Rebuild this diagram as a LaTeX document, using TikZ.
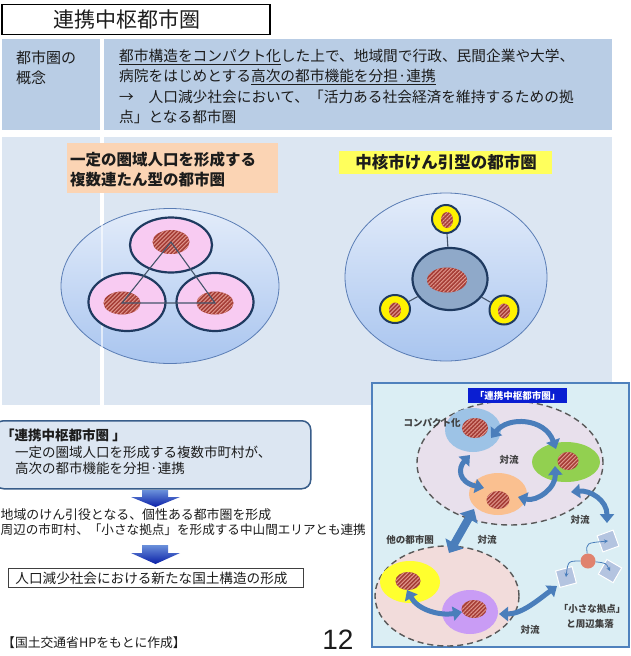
\documentclass[tikz,border=0pt]{standalone}
\usepackage{fontspec}
\setmainfont{Noto Sans CJK JP}
\newfontfamily\arialf{Liberation Sans}
\usetikzlibrary{shapes.geometric, patterns.meta, arrows.meta}
\newcommand\setfs[1]{\fontsize{#1}{#1}\selectfont}
\definecolor{ink}{HTML}{1C1C1C}
\definecolor{cellA}{HTML}{B9CDE5}
\definecolor{cellB}{HTML}{DCE6F2}
\definecolor{peach}{HTML}{FBD4B4}
\definecolor{ylw}{HTML}{FFFF5C}
\definecolor{ellTop}{HTML}{E3ECFA}
\definecolor{ellBot}{HTML}{A9C5EF}
\definecolor{ellBorder}{HTML}{5A7DB5}
\definecolor{navy}{HTML}{1F3A60}
\definecolor{pinkc}{HTML}{F8CBF2}
\definecolor{hatchBase}{HTML}{A63E37}
\definecolor{hatchLine}{HTML}{E39A90}
\definecolor{slate}{HTML}{44546A}
\definecolor{ctrBlue}{HTML}{8FA9C9}
\definecolor{rboxBorder}{HTML}{385D8A}
\definecolor{arrTop}{HTML}{6A90DA}
\definecolor{arrBot}{HTML}{0A1FA8}
\definecolor{frameFill}{HTML}{DBEEF4}
\definecolor{frameLine}{HTML}{4F81BD}
\definecolor{upFill}{HTML}{E8E0EC}
\definecolor{lowFill}{HTML}{F2DCDB}
\definecolor{dashGrey}{HTML}{595959}
\definecolor{cBlue}{HTML}{9DC3E6}
\definecolor{cGreen}{HTML}{92D050}
\definecolor{cOrange}{HTML}{FAC090}
\definecolor{cYellow}{HTML}{FFFF2E}
\definecolor{cPurple}{HTML}{C99CF5}
\definecolor{flowBlue}{HTML}{4A7EBB}
\definecolor{labelBlue}{HTML}{0A1ED2}
\definecolor{sqFill}{HTML}{B4C4E0}
\definecolor{hubRed}{HTML}{E0826E}
\definecolor{smallInk}{HTML}{404040}
\begin{document}
\begin{tikzpicture}[x=1pt,y=-1pt,
  cell/.style={anchor=north west, inner sep=0, draw=none},
  txt/.style={inner sep=0, anchor=west, text=ink},
  ctxt/.style={inner sep=0, text=ink},
  small/.style={inner sep=0, text=smallInk, font=\setfs{9.5}\bfseries},
  bigell/.style={ellipse, inner sep=0, draw=ellBorder, line width=0.8, top color=ellTop, bottom color=ellBot},
  pinkring/.style={ellipse, inner sep=0, draw=navy, line width=2.2, fill=pinkc},
  yring/.style={ellipse, inner sep=0, draw=navy, line width=2, fill=yellow},
  hatch/.style={ellipse, inner sep=0, fill=hatchBase, postaction={pattern={Lines[angle=45,distance=2.8pt,line width=0.9pt]}, pattern color=hatchLine}},
  blob/.style={ellipse, inner sep=0, draw=none},
  region/.style={ellipse, inner sep=0, draw=dashGrey, line width=1.4, dash pattern=on 6pt off 4pt},
  flow/.style={draw=flowBlue, line width=5, {Triangle[width=14pt,length=9pt]}-{Triangle[width=14pt,length=9pt]}},
  thinarr/.style={draw=flowBlue, line width=0.8, -{Stealth[width=4pt,length=4pt]}},
  sq/.style={rectangle, fill=sqFill, draw=white, line width=1, minimum size=17, inner sep=0},
  link/.style={draw=slate, line width=1.1}
]
\useasboundingbox (0,0) rectangle (630,656);
\fill[white] (0,0) rectangle (630,656);

% title
\node[draw=black, line width=1.5, fill=white, minimum width=268, minimum height=30, inner sep=0] (title) at (136,19.5) {};
\node[ctxt, font=\setfs{21}] (titletext) at (127,19.5) {連携中枢都市圏};

% table
\node[cell, fill=cellA, minimum width=98, minimum height=91] (c11) at (2,39) {};
\node[cell, fill=cellA, minimum width=508, minimum height=91] (c12) at (104,39) {};
\node[cell, fill=cellB, minimum width=98, minimum height=268] (c21) at (2,137) {};
\node[cell, fill=cellB, minimum width=508, minimum height=268] (c22) at (104,137) {};

\node[txt, font=\setfs{15}] (k1) at (16,58) {都市圏の};
\node[txt, font=\setfs{15}] (k2) at (16,78) {概念};
\node[txt, font=\setfs{14.7}] (d1) at (119,57) {\underline{都市構造をコンパクト化}した上で、地域間で行政、民間企業や大学、};
\node[txt, font=\setfs{14.7}] (d2) at (119,77) {病院をはじめとする\underline{高次の都市機能を分担·連携}};
\node[txt, font=\setfs{14.7}] (d3) at (119,97) {→　人口減少社会において、「活力ある社会経済を維持するための拠};
\node[txt, font=\setfs{14.7}] (d4) at (119,117) {点」となる都市圏};

% row 2 figure
\node[bigell, minimum width=218, minimum height=155] (leftell) at (170,286) {};
\draw[white, line width=2, opacity=0.6] (102,193) -- (102,405);
\node[cell, fill=peach, minimum width=211, minimum height=50] (peachbox) at (67,143) {};
\node[txt, font=\setfs{15.5}\bfseries] (p1) at (70,160) {一定の圏域人口を形成する};
\node[txt, font=\setfs{15.5}\bfseries] (p2) at (70,180) {複数連たん型の都市圏};

\node[pinkring, minimum width=82, minimum height=55] (pt) at (171,245) {};
\node[pinkring, minimum width=77, minimum height=58] (pl) at (127,302) {};
\node[pinkring, minimum width=77, minimum height=58] (pr) at (215,302) {};
\node[hatch, minimum width=37, minimum height=24] (ht) at (171,242) {};
\node[hatch, minimum width=37, minimum height=23] (hl) at (122,303) {};
\node[hatch, minimum width=37, minimum height=23] (hr) at (215,303) {};
\draw[link] (ht.center) -- (hl.center) -- (hr.center) -- cycle;

\node[cell, fill=ylw, minimum width=213, minimum height=23] (ybox) at (339,151) {};
\node[ctxt, font=\setfs{16.5}\bfseries] (ytext) at (446,162.5) {中核市けん引型の都市圏};

\node[bigell, minimum width=202, minimum height=168] (rightell) at (446,277) {};
\node[ellipse, inner sep=0, draw=navy, line width=2.2, fill=ctrBlue, minimum width=75, minimum height=62] (ctr) at (450,279) {};
\node[hatch, minimum width=40, minimum height=25] (hc) at (447,280) {};
\node[yring, minimum width=28, minimum height=28] (s1) at (446,219) {};
\node[yring, minimum width=30, minimum height=28] (s2) at (395,309) {};
\node[yring, minimum width=29, minimum height=29] (s3) at (504,310) {};
\node[hatch, minimum width=12, minimum height=16] (hs1) at (447,220) {};
\node[hatch, minimum width=12, minimum height=15] (hs2) at (395,310) {};
\node[hatch, minimum width=12, minimum height=15] (hs3) at (504,311) {};
\draw[link] (ctr) -- (s1);
\draw[link] (ctr) -- (s2);
\draw[link] (ctr) -- (s3);

% lower left flow
\node[cell, draw=rboxBorder, line width=1.5, fill=cellB, rounded corners=9, minimum width=316, minimum height=68] (concept) at (-6,420) {};
\node[txt, font=\setfs{13.5}\bfseries] (ct1) at (1,435) {「連携中枢都市圏 」};
\node[txt, font=\setfs{13.5}] (ct2) at (15,452) {一定の圏域人口を形成する複数市町村が、};
\node[txt, font=\setfs{13.5}] (ct3) at (15,468) {高次の都市機能を分担·連携};

\shade[top color=arrTop, bottom color=arrBot] (142,490) -- (168,490) -- (168,497) -- (180,497) -- (155.5,507) -- (131,497) -- (142,497) -- cycle;
\node[txt, font=\setfs{12.9}] (m1) at (0.5,515) {地域のけん引役となる、個性ある都市圏を形成};
\node[txt, font=\setfs{12.6}] (m2) at (0.5,530) {周辺の市町村、「小さな拠点」を形成する中山間エリアとも連携};
\shade[top color=arrTop, bottom color=arrBot] (142,545) -- (168,545) -- (168,553) -- (180,553) -- (155.5,564) -- (131,553) -- (142,553) -- cycle;

\node[draw=smallInk, line width=1, fill=white, anchor=west, minimum height=19, text width=281, inner xsep=7, inner ysep=0, align=left, font=\setfs{13.6}, text=ink] (result) at (8,578) {人口減少社会における新たな国土構造の形成};

\node[txt, font=\setfs{12.8}] (src) at (2,643) {【国土交通省HPをもとに作成】};
\node[ctxt, font=\arialf\setfs{28}] (pg) at (338,640) {12};

% bottom right figure
\node[cell, draw=frameLine, line width=1.8, fill=frameFill, minimum width=257, minimum height=264] (frame) at (371,382) {};
\node[region, fill=upFill, minimum width=186, minimum height=124] (upreg) at (510,463) {};
\node[region, fill=lowFill, minimum width=144, minimum height=100] (lowreg) at (447,596) {};
\node[cell, fill=labelBlue, minimum width=99, minimum height=15] (lbl) at (468,388) {};
\node[inner sep=0, text=white, font=\setfs{9.5}\bfseries] (lbltext) at (517.5,395.5) {「連携中枢都市圏」};

\node[blob, fill=cBlue, minimum width=56, minimum height=44] (cb) at (473,430) {};
\node[blob, fill=cGreen, minimum width=68, minimum height=40] (cg) at (566,462) {};
\node[blob, fill=cOrange, minimum width=58, minimum height=42] (co) at (498,494) {};
\node[blob, fill=cYellow, minimum width=60, minimum height=42] (cy) at (410,582) {};
\node[blob, fill=cPurple, minimum width=56, minimum height=44] (cp) at (470,612) {};
\node[hatch, minimum width=26, minimum height=20] (hb) at (475,428) {};
\node[hatch, minimum width=21, minimum height=18] (hg) at (568,461) {};
\node[hatch, minimum width=23, minimum height=18] (ho) at (498,500) {};
\node[hatch, minimum width=25, minimum height=18] (hy) at (408,581) {};
\node[hatch, minimum width=25, minimum height=18] (hp) at (474,609) {};

\node[small] (compact) at (432,423) {コンパクト化};
\node[small] (f1) at (509,460) {対流};
\node[small] (f2) at (580,520) {対流};
\node[small] (f3) at (487,540) {対流};
\node[small] (f4) at (530,630) {対流};
\node[small] (other) at (410,540) {他の都市圏};
\node[small] (hubl1) at (592,609) {「小さな拠点」};
\node[small] (hubl2) at (590,624) {と周辺集落};

\coordinate (a1s) at (491,438); \coordinate (a1e) at (556,449);
\coordinate (a2s) at (470,455); \coordinate (a2e) at (484,488);
\coordinate (a3s) at (518,497); \coordinate (a3e) at (555,466);
\coordinate (a4s) at (571,492); \coordinate (a4e) at (607,523);
\coordinate (a5s) at (474,509); \coordinate (a5e) at (449,553);
\coordinate (a6s) at (407,590); \coordinate (a6e) at (462,612);
\coordinate (a7s) at (499,614); \coordinate (a7e) at (557,586);
\draw[flow] (a1s) .. controls (508,416) and (545,418) .. (a1e);
\draw[flow] (a2s) .. controls (458,468) and (458,482) .. (a2e);
\draw[flow] (a3s) .. controls (537,502) and (556,488) .. (a3e);
\draw[flow] (a4s) .. controls (590,490) and (607,500) .. (a4e);
\draw[draw=flowBlue, line width=8, {Triangle[width=20pt,length=11pt]}-{Triangle[width=20pt,length=11pt]}] (a5s) -- (a5e);
\draw[flow] (a6s) .. controls (418,610) and (440,616) .. (a6e);
\draw[flow] (a7s) .. controls (522,614) and (538,600) .. (a7e);

\node[sq, rotate=20] (sq1) at (608,541) {};
\node[sq, rotate=-30] (sq2) at (610,571) {};
\node[sq, rotate=15] (sq3) at (566,577) {};
\node[circle, fill=hubRed, minimum size=15, inner sep=0] (hub) at (588,561) {};
\draw[thinarr] (hub) .. controls (586,543) .. (sq1.center);
\draw[thinarr] (hub) .. controls (568,561) .. (sq3.center);
\draw[thinarr] (hub) .. controls (606,563) .. (sq2.center);
\end{tikzpicture}
\end{document}
